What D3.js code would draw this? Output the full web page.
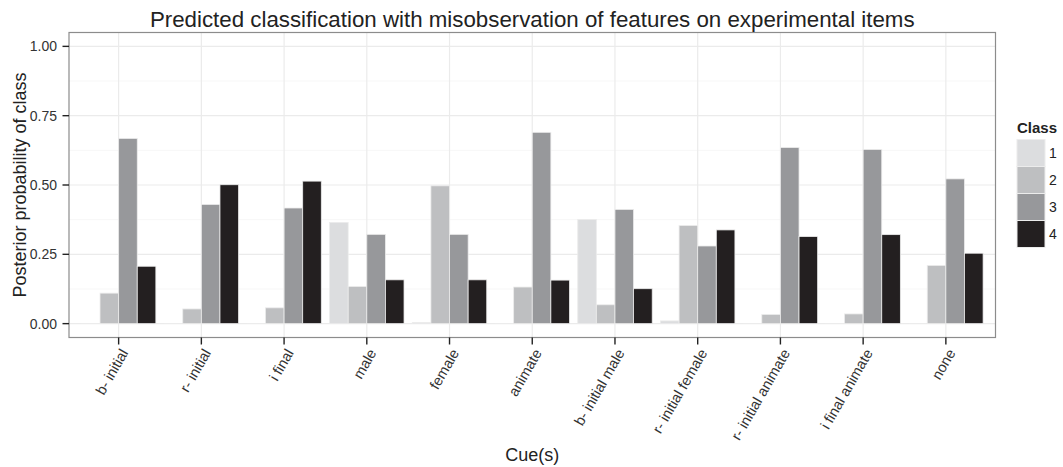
<!DOCTYPE html>
<html><head><meta charset="utf-8">
<script src="https://cdn.jsdelivr.net/npm/d3@7"></script>
<style>body{margin:0;background:#fff}svg{display:block}text{font-family:"Liberation Sans",Arial,sans-serif}</style>
</head><body><svg id="c" width="1063" height="467"></svg>
<script>
const categories = ["b- initial","r- initial","i final","male","female","animate","b- initial male","r- initial female","r- initial animate","i final animate","none"];
const classes = ["1","2","3","4"];
const class1 = [0.001,0.001,0.001,0.365,0.004,0.001,0.376,0.010,0.001,0.001,0.001];
const class2 = [0.110,0.053,0.057,0.134,0.497,0.132,0.068,0.354,0.033,0.035,0.210];
const class3 = [0.668,0.430,0.417,0.322,0.322,0.690,0.412,0.280,0.635,0.628,0.522];
const class4 = [0.207,0.501,0.514,0.158,0.158,0.157,0.126,0.338,0.314,0.321,0.254];
const yTicks = [0,0.25,0.5,0.75,1];
const yMinor = [0.125,0.375,0.625,0.875];
const colors = ["#dcdddf","#bebfc1","#97989b","#231f20"];

const series = [class1,class2,class3,class4];
const svg = d3.select("#c");
const L=69, R=995.5, T=32.5, B=337.5;
const step=(R-L)/(categories.length-1+1.2);
const x = d3.scaleBand().domain(categories).range([L+0.1*step,R-0.1*step]).paddingInner(0).paddingOuter(0);
const inner = d3.scaleBand().domain(classes).range([x.bandwidth()*0.05, x.bandwidth()*0.95]);
const y = d3.scaleLinear().domain([-0.05,1.05]).range([B,T]);
const cx = d=>x(d)+x.bandwidth()/2;

svg.append("rect").attr("x",L).attr("y",T).attr("width",R-L).attr("height",B-T).attr("fill","#fff");
svg.append("g").selectAll("line").data(yMinor).join("line")
 .attr("x1",L).attr("x2",R).attr("y1",d=>y(d)).attr("y2",d=>y(d)).attr("stroke","#f7f7f7").attr("stroke-width",1);
svg.append("g").selectAll("line").data(yTicks).join("line")
 .attr("x1",L).attr("x2",R).attr("y1",d=>y(d)).attr("y2",d=>y(d)).attr("stroke","#ebebeb").attr("stroke-width",1.2);
svg.append("g").selectAll("line").data(categories).join("line")
 .attr("y1",T).attr("y2",B).attr("x1",cx).attr("x2",cx).attr("stroke","#ebebeb").attr("stroke-width",1.2);

const data=[];
categories.forEach((c,i)=>classes.forEach((k,j)=>data.push({c,k,j,v:series[j][i]})));
svg.append("g").selectAll("rect").data(data).join("rect")
 .attr("x",d=>x(d.c)+inner(d.k)).attr("width",inner.bandwidth())
 .attr("y",d=>y(d.v)).attr("height",d=>y(0)-y(d.v))
 .attr("fill",d=>colors[d.j]).attr("stroke","#ececec").attr("stroke-width",0.8);

svg.append("rect").attr("x",L).attr("y",T).attr("width",R-L).attr("height",B-T).attr("fill","none").attr("stroke","#8c8c8c").attr("stroke-width",1.2);

const ya=svg.append("g");
ya.selectAll("line").data(yTicks).join("line").attr("x1",L-6.5).attr("x2",L).attr("y1",d=>y(d)).attr("y2",d=>y(d)).attr("stroke","#222").attr("stroke-width",1.4);
ya.selectAll("text").data(yTicks).join("text").attr("x",L-12).attr("y",d=>y(d)).attr("dy","0.36em").attr("text-anchor","end")
 .attr("font-size",14).attr("fill","#333").text(d=>d3.format(".2f")(d));
const xa=svg.append("g");
xa.selectAll("line").data(categories).join("line").attr("x1",cx).attr("x2",cx).attr("y1",B).attr("y2",B+7).attr("stroke","#222").attr("stroke-width",1.4);
xa.selectAll("text").data(categories).join("text")
 .attr("transform",d=>`translate(${cx(d)+1},${B+10}) rotate(-60)`)
 .attr("text-anchor","end").attr("dy","0.72em").attr("font-size",14.5).attr("fill","#333").text(d=>d);

svg.append("text").attr("x",(L+R)/2).attr("y",27).attr("text-anchor","middle").attr("font-size",22.3).attr("fill","#222").text("Predicted classification with misobservation of features on experimental items");
svg.append("text").attr("x",(L+R)/2).attr("y",461).attr("text-anchor","middle").attr("font-size",18).attr("fill","#222").text("Cue(s)");
svg.append("text").attr("transform",`translate(26,${(T+B)/2}) rotate(-90)`).attr("text-anchor","middle").attr("font-size",18).attr("fill","#222").text("Posterior probability of class");

const lg=svg.append("g");
lg.append("text").attr("x",1017).attr("y",133).attr("font-size",15).attr("font-weight","bold").attr("fill","#222").text("Class");
const kh=27;
lg.selectAll("rect").data(classes).join("rect").attr("x",1017).attr("y",(d,i)=>139.5+i*kh).attr("width",28).attr("height",kh)
 .attr("fill",(d,i)=>colors[i]).attr("stroke","#ececec").attr("stroke-width",1);
lg.selectAll("text.l").data(classes).join("text").attr("class","l").attr("x",1049).attr("y",(d,i)=>139.5+i*kh+kh/2).attr("dy","0.36em")
 .attr("font-size",14).attr("fill","#222").text(d=>d);
</script></body></html>
